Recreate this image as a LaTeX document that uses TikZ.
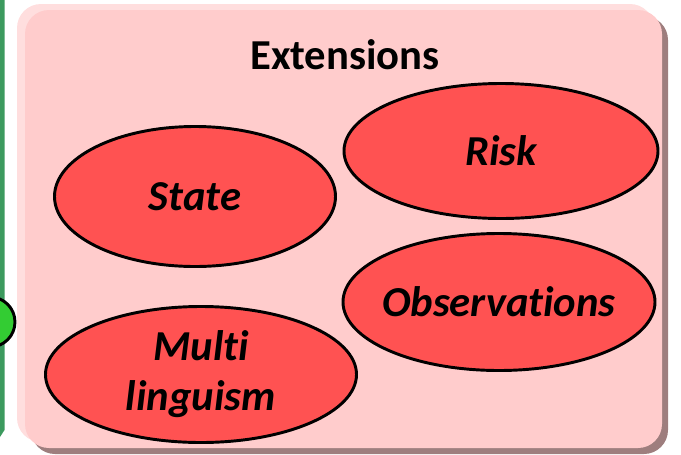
\documentclass[tikz,border=0pt]{standalone}
\usepackage{fontspec}
\setmainfont{Carlito}[Ligatures=NoCommon]
\usetikzlibrary{shapes.geometric}
\definecolor{boxpink}{HTML}{FFCCCC}
\definecolor{boxlight}{HTML}{FFDEDE}
\definecolor{boxshadow}{HTML}{9E7E7E}
\definecolor{extred}{HTML}{FF5252}
\definecolor{bargreen}{HTML}{3C9A5E}
\definecolor{dotgreen}{HTML}{33CC33}

\begin{document}
\begin{tikzpicture}[x=0.75pt,y=-0.75pt,
  ext/.style={ellipse,draw=black,line width=2.2pt,fill=extred,inner sep=0pt},
  exttext/.style={font=\fontsize{32}{37.5}\selectfont\bfseries\itshape,align=center}]
 \useasboundingbox (0,0) rectangle (681,454);
 % left neighbour
 \fill[bargreen](0,0)--(4.5,0)--(4.5,430)--(0,437)--cycle;
 \draw[line width=2.2pt,fill=dotgreen](-10,322) circle (25);
 % extensions box
 \fill[boxshadow,rounded corners=18pt](31,16) rectangle (668,454);
 \fill[boxlight,rounded corners=18pt](17,4) rectangle (654,442);
 \fill[boxpink,rounded corners=18pt](25,10) rectangle (662,448);
 \node[font=\fontsize{32}{36}\selectfont\bfseries] (title) at (345,55) {Extensions};
 \node[ext,minimum width=210.75pt,minimum height=105pt,label={[exttext]center:State}] (state) at (195,196.5) {};
 \node[ext,minimum width=235.5pt,minimum height=101.25pt,label={[exttext]center:Risk}] (risk) at (501,151) {};
 \node[ext,minimum width=234pt,minimum height=102.75pt,label={[exttext]center:Observations}] (obs) at (499,302) {};
 \node[ext,minimum width=233.25pt,minimum height=102pt,label={[exttext]center:Multi\\linguism}] (multi) at (201,374.5) {};
\end{tikzpicture}
\end{document}
